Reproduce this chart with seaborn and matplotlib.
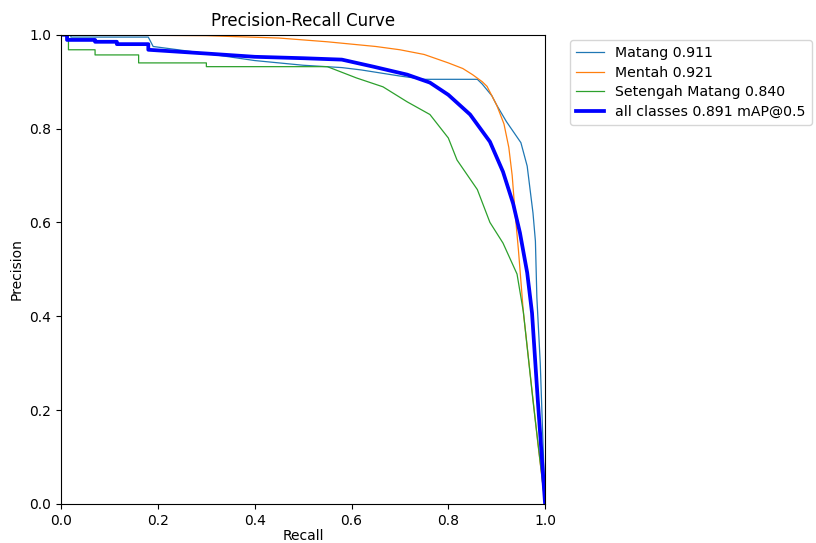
import pandas as pd
import matplotlib
matplotlib.use("Agg")
import matplotlib.pyplot as plt
import seaborn as sns

# PR curve points (recall, precision)
matang_recall = [0, 0.02, 0.02, 0.18, 0.19, 0.3, 0.4, 0.5, 0.58, 0.62, 0.7, 0.75, 0.86,
                 0.87, 0.89, 0.9, 0.92, 0.93, 0.95, 0.963, 0.975, 0.98, 0.983, 0.99, 1.0]
matang_precision = [1.0, 1.0, 0.995, 0.995, 0.975, 0.96, 0.945, 0.935, 0.93, 0.925, 0.912,
                    0.905, 0.905, 0.895, 0.87, 0.85, 0.815, 0.80, 0.77, 0.72, 0.62, 0.56,
                    0.44, 0.30, 0.0]

mentah_recall = [0, 0.3, 0.45, 0.55, 0.6, 0.65, 0.7, 0.75, 0.8, 0.83, 0.85, 0.87, 0.88,
                 0.9, 0.915, 0.925, 0.932, 0.938, 0.945, 0.955, 0.97, 0.985, 1.0]
mentah_precision = [1.0, 0.998, 0.993, 0.985, 0.98, 0.975, 0.968, 0.958, 0.94, 0.928, 0.915,
                    0.9, 0.89, 0.85, 0.81, 0.76, 0.70, 0.62, 0.54, 0.41, 0.27, 0.13, 0.0]

setengah_recall = [0, 0.015, 0.015, 0.07, 0.07, 0.16, 0.16, 0.3, 0.3, 0.55, 0.58, 0.61,
                   0.665, 0.715, 0.762, 0.80, 0.818, 0.84, 0.86, 0.886, 0.913, 0.942, 0.955,
                   0.975, 1.0]
setengah_precision = [1.0, 1.0, 0.968, 0.968, 0.957, 0.957, 0.94, 0.94, 0.932, 0.932, 0.92,
                      0.908, 0.889, 0.857, 0.83, 0.78, 0.733, 0.70, 0.67, 0.60, 0.556, 0.49,
                      0.41, 0.22, 0.0]

all_recall = [0, 0.012, 0.012, 0.07, 0.07, 0.115, 0.115, 0.18, 0.18, 0.3, 0.4, 0.5, 0.58,
              0.645, 0.715, 0.762, 0.80, 0.845, 0.886, 0.913, 0.934, 0.948, 0.963, 0.973,
              0.985, 1.0]
all_precision = [1.0, 1.0, 0.989, 0.989, 0.985, 0.985, 0.98, 0.98, 0.968, 0.96, 0.953, 0.95,
                 0.947, 0.932, 0.915, 0.898, 0.872, 0.83, 0.772, 0.708, 0.64, 0.578, 0.493,
                 0.407, 0.22, 0.0]

class_names = ["Matang 0.911", "Mentah 0.921", "Setengah Matang 0.840"]
all_label = "all classes 0.891 mAP@0.5"

plt.rcParams['font.family'] = ['DejaVu Sans']
fig = plt.figure(figsize=(8.16, 5.43), dpi=100)
ax = fig.add_axes([0.075, 0.072, 0.593, 0.864])

curves = [(matang_recall, matang_precision), (mentah_recall, mentah_precision),
          (setengah_recall, setengah_precision)]
colors = ["#1f77b4", "#ff7f0e", "#2ca02c"]
for (r, p), name, c in zip(curves, class_names, colors):
    df = pd.DataFrame({"Recall": r, "Precision": p})
    sns.lineplot(data=df, x="Recall", y="Precision", sort=False, estimator=None,
                 color=c, linewidth=0.9, label=name, ax=ax)

df_all = pd.DataFrame({"Recall": all_recall, "Precision": all_precision})
sns.lineplot(data=df_all, x="Recall", y="Precision", sort=False, estimator=None,
             color="blue", linewidth=2.7, label=all_label, ax=ax)

ax.set_xlim(0, 1)
ax.set_ylim(0, 1)
ax.set_xlabel("Recall", fontsize=10, labelpad=1)
ax.set_ylabel("Precision", fontsize=10)
ax.set_title("Precision-Recall Curve", fontsize=12)
ax.tick_params(labelsize=10)
ax.legend(bbox_to_anchor=(1.04, 1), loc="upper left", fontsize=10.2,
          labelspacing=0.4, borderaxespad=0.4)

fig.savefig("out.png", dpi=100)
